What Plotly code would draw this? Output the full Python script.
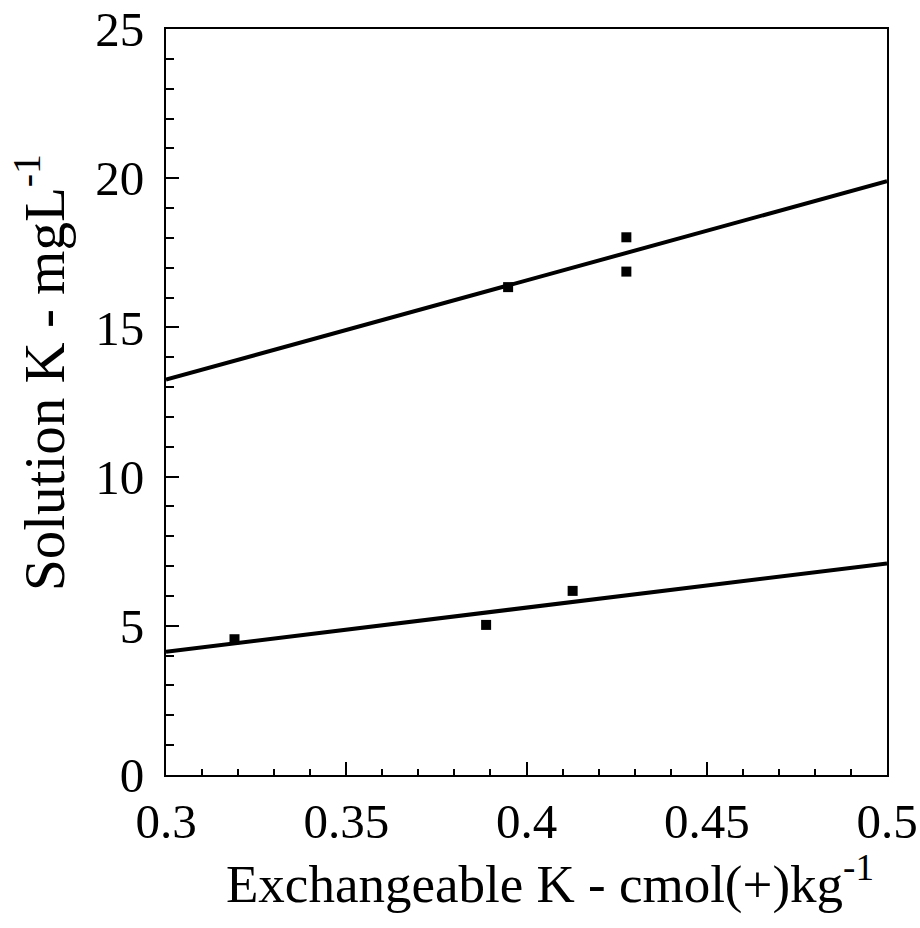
import plotly.graph_objects as go

# Data
upper_x = [0.3949, 0.4277, 0.4277]
upper_y = [16.35, 18.02, 16.87]
lower_x = [0.319, 0.3888, 0.4128]
lower_y = [4.55, 5.03, 6.17]

# fitted regression lines (end points at axis limits)
fit_x = [0.3, 0.5]
upper_fit_y = [13.25, 19.9]
lower_fit_y = [4.13, 7.09]

x_ticks = [0.3, 0.35, 0.4, 0.45, 0.5]
x_tick_labels = ["0.3", "0.35", "0.4", "0.45", "0.5"]
y_ticks = [0, 5, 10, 15, 20, 25]
y_tick_labels = ["0", "5", "10", "15", "20", "25"]

FONT = "Liberation Serif, Times New Roman, serif"

fig = go.Figure()
for fy in (upper_fit_y, lower_fit_y):
    fig.add_trace(go.Scatter(x=fit_x, y=fy, mode="lines",
                             line=dict(color="black", width=4),
                             showlegend=False, hoverinfo="skip"))
for xs, ys in ((upper_x, upper_y), (lower_x, lower_y)):
    fig.add_trace(go.Scatter(x=xs, y=ys, mode="markers",
                             marker=dict(symbol="square", size=10, color="black"),
                             showlegend=False))

axis_common = dict(
    showgrid=False, zeroline=False, showline=True, linecolor="black",
    linewidth=2, mirror=True, ticks="inside", tickcolor="black",
    tickwidth=2, ticklen=13, automargin=False, ticklabeloverflow="allow",
    tickfont=dict(family=FONT, size=49, color="black"),
)

fig.update_xaxes(range=[0.3, 0.5], tickvals=x_ticks, ticktext=x_tick_labels,
                 ticklabelstandoff=2,
                 minor=dict(dtick=0.01, ticks="inside", ticklen=6,
                            tickcolor="black", tickwidth=2),
                 **axis_common)
fig.update_yaxes(range=[0, 25], tickvals=y_ticks, ticktext=y_tick_labels,
                 ticklabelstandoff=10,
                 minor=dict(dtick=1, ticks="inside", ticklen=8,
                            tickcolor="black", tickwidth=2),
                 **axis_common)

fig.add_annotation(text="Exchangeable K - cmol(+)kg<sup>-1</sup>",
                   xref="paper", yref="paper", x=0.533, y=-0.141,
                   xanchor="center", yanchor="middle", showarrow=False,
                   font=dict(family=FONT, size=53, color="black"))
fig.add_annotation(text="Solution K - mgL<sup>-1</sup>",
                   xref="paper", yref="paper", x=-0.175, y=0.54,
                   xanchor="center", yanchor="middle", showarrow=False,
                   textangle=-90,
                   font=dict(family=FONT, size=57, color="black"))

fig.update_layout(
    width=920, height=928,
    margin=dict(l=166, r=33, t=29, b=153),
    paper_bgcolor="white", plot_bgcolor="white",
    showlegend=False,
)

# remove the page's default body margin so the figure fills the window
fig.write_html("out.html",
               config={"displayModeBar": False},
               post_script="document.body.style.margin='0';"
                           "document.body.style.overflow='hidden';")
